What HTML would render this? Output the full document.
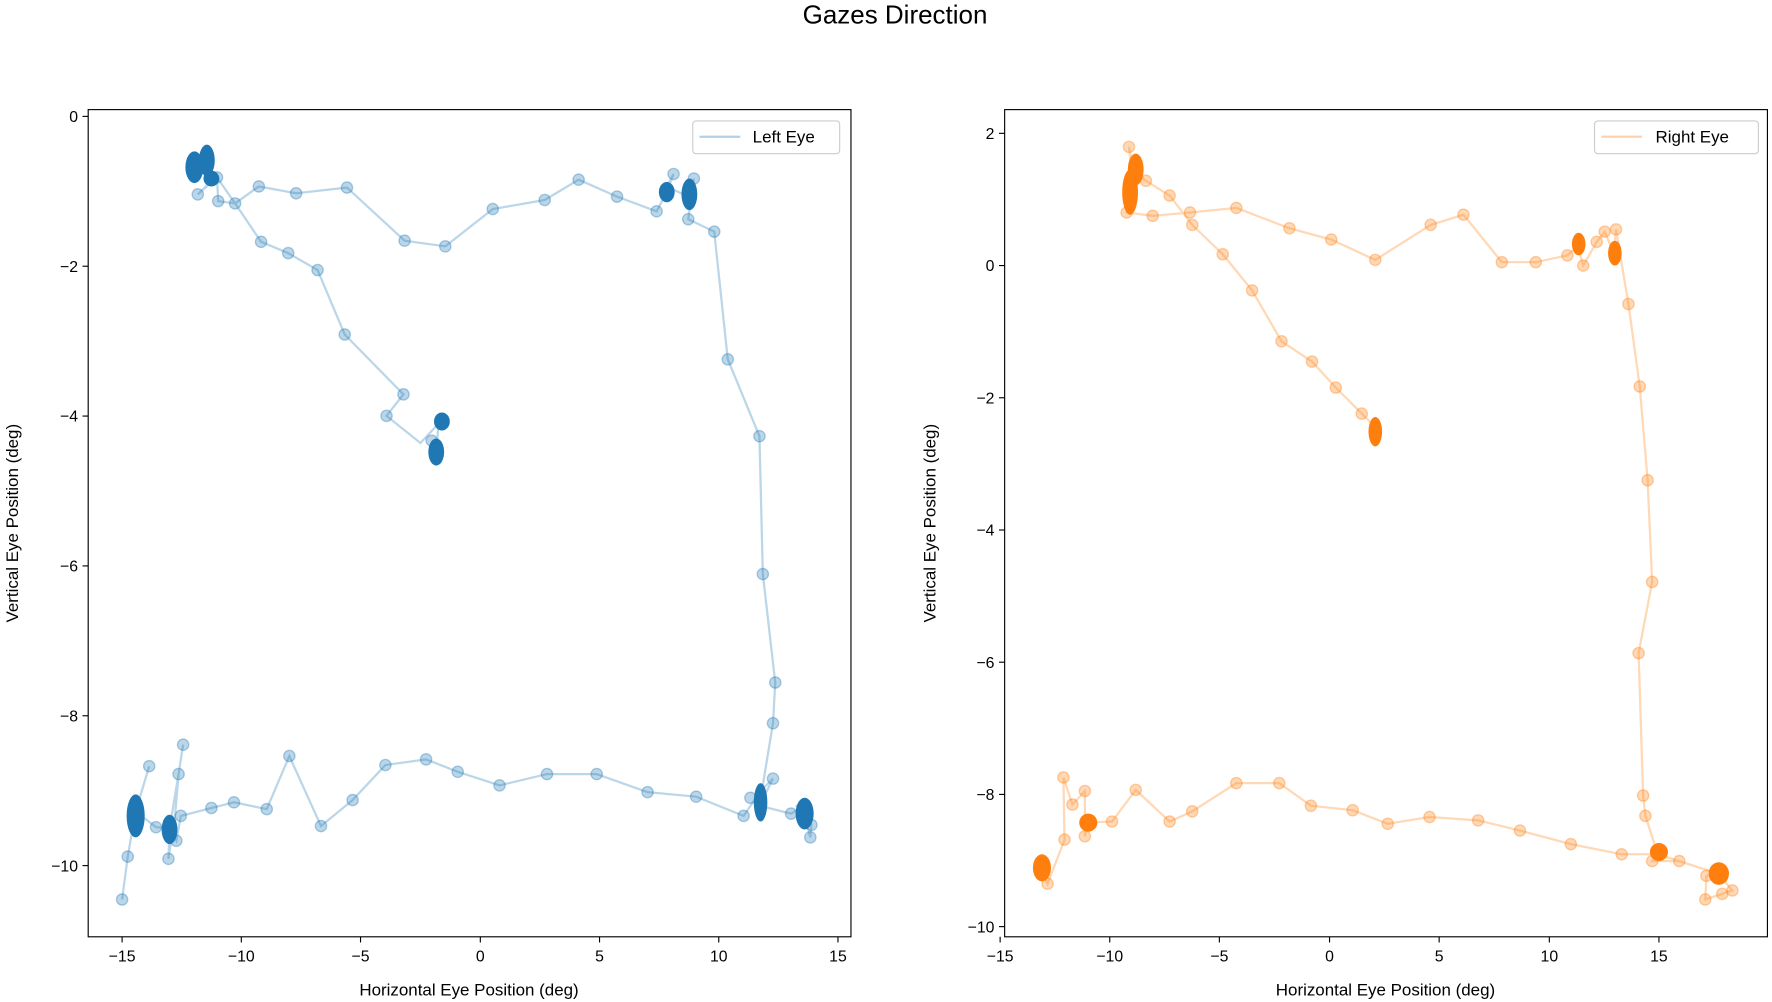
<!DOCTYPE html>
<html><head><meta charset="utf-8"><style>
html,body{margin:0;padding:0;background:#fff}
svg{display:block;font-family:"Liberation Sans","DejaVu Sans",sans-serif}
</style></head><body>
<svg width="1772" height="1002" viewBox="0 0 1568 886.7" xmlns="http://www.w3.org/2000/svg">
<defs>
<circle id="b" r="5" fill="#1f77b4" fill-opacity="0.3" stroke="#1f77b4" stroke-opacity="0.35" stroke-width="1.2"/>
<circle id="o" r="5" fill="#ff7f0e" fill-opacity="0.3" stroke="#ff7f0e" stroke-opacity="0.35" stroke-width="1.2"/>
</defs>
<text x="792" y="21" font-size="23" text-anchor="middle">Gazes Direction</text>

<!-- LEFT -->
<g>
<polyline fill="none" stroke="#1f77b4" stroke-opacity="0.3" stroke-width="2" points="386,400 388,375 372,392 342,368 357,349 305,296 281,239 255,224 231,214 208,180 193,178 192,157 175,150 170,140 182,142 187,160 175,172 192,157 208,180 229,165 262,171 307,166 358,213 394,218 436,185 482,177 512,159 546,174 581,187 590,170 596,154 590,165 611,175 614,158 609,194 632,205 644,318 672,386 675,508 686,604 684,640 672,713 684,689 673,700 658,722 616,705 573,701 528,685 484,685 442,695 405,683 377,672 341,677 312,708 284,731 256,669 236,716 207,710 187,715 160,722 156,744 150,733 149,760 155,720 158,685 162,659 158,685 150,733 138,732 120,718 132,678 120,718 113,758 108,796"/>
<polyline fill="none" stroke="#1f77b4" stroke-opacity="0.3" stroke-width="2" points="672,713 700,720 710,714 718,730 717,741 710,714 704,713"/>
<g fill="#1f77b4">
<ellipse cx="386" cy="400" rx="7" ry="12"/><ellipse cx="391" cy="373" rx="7" ry="8"/>
<ellipse cx="172" cy="148" rx="8" ry="14"/><ellipse cx="183" cy="142" rx="7" ry="14"/><ellipse cx="187" cy="158" rx="7" ry="7"/>
<ellipse cx="590" cy="170" rx="7" ry="9"/><ellipse cx="610" cy="172" rx="7" ry="14"/>
<ellipse cx="673" cy="710" rx="6" ry="17"/><ellipse cx="712" cy="720" rx="8" ry="14"/>
<ellipse cx="120" cy="722" rx="8" ry="19"/><ellipse cx="150" cy="734" rx="7" ry="13"/>
</g>
<g>
<use href="#b" x="342" y="368"/><use href="#b" x="357" y="349"/><use href="#b" x="305" y="296"/><use href="#b" x="281" y="239"/><use href="#b" x="255" y="224"/><use href="#b" x="231" y="214"/><use href="#b" x="208" y="180"/><use href="#b" x="193" y="178"/><use href="#b" x="192" y="157"/><use href="#b" x="175" y="172"/><use href="#b" x="229" y="165"/><use href="#b" x="262" y="171"/><use href="#b" x="307" y="166"/><use href="#b" x="358" y="213"/><use href="#b" x="394" y="218"/><use href="#b" x="436" y="185"/><use href="#b" x="482" y="177"/><use href="#b" x="512" y="159"/><use href="#b" x="546" y="174"/><use href="#b" x="581" y="187"/><use href="#b" x="596" y="154"/><use href="#b" x="614" y="158"/><use href="#b" x="609" y="194"/><use href="#b" x="632" y="205"/><use href="#b" x="644" y="318"/><use href="#b" x="672" y="386"/><use href="#b" x="675" y="508"/><use href="#b" x="686" y="604"/><use href="#b" x="684" y="640"/><use href="#b" x="684" y="689"/><use href="#b" x="658" y="722"/><use href="#b" x="616" y="705"/><use href="#b" x="573" y="701"/><use href="#b" x="528" y="685"/><use href="#b" x="484" y="685"/><use href="#b" x="442" y="695"/><use href="#b" x="405" y="683"/><use href="#b" x="377" y="672"/><use href="#b" x="341" y="677"/><use href="#b" x="312" y="708"/><use href="#b" x="284" y="731"/><use href="#b" x="256" y="669"/><use href="#b" x="236" y="716"/><use href="#b" x="207" y="710"/><use href="#b" x="187" y="715"/><use href="#b" x="160" y="722"/><use href="#b" x="156" y="744"/><use href="#b" x="149" y="760"/><use href="#b" x="158" y="685"/><use href="#b" x="162" y="659"/><use href="#b" x="138" y="732"/><use href="#b" x="132" y="678"/><use href="#b" x="113" y="758"/><use href="#b" x="108" y="796"/><use href="#b" x="700" y="720"/><use href="#b" x="718" y="730"/><use href="#b" x="717" y="741"/><use href="#b" x="382" y="390"/><use href="#b" x="664" y="706"/>
</g>
<rect x="78" y="97" width="675" height="732" fill="none" stroke="#000" stroke-width="1"/>
<g stroke="#000" stroke-width="1">
<line x1="108" y1="829" x2="108" y2="834"/><line x1="213.5" y1="829" x2="213.5" y2="834"/><line x1="319" y1="829" x2="319" y2="834"/><line x1="425" y1="829" x2="425" y2="834"/><line x1="530.5" y1="829" x2="530.5" y2="834"/><line x1="636" y1="829" x2="636" y2="834"/><line x1="741.5" y1="829" x2="741.5" y2="834"/>
<line x1="73" y1="103" x2="78" y2="103"/><line x1="73" y1="235.6" x2="78" y2="235.6"/><line x1="73" y1="368.2" x2="78" y2="368.2"/><line x1="73" y1="500.8" x2="78" y2="500.8"/><line x1="73" y1="633.4" x2="78" y2="633.4"/><line x1="73" y1="766" x2="78" y2="766"/>
</g>
<g font-size="14" text-anchor="middle">
<text x="108" y="851">−15</text><text x="213.5" y="851">−10</text><text x="319" y="851">−5</text><text x="425" y="851">0</text><text x="530.5" y="851">5</text><text x="636" y="851">10</text><text x="741.5" y="851">15</text>
</g>
<g font-size="14" text-anchor="end">
<text x="69" y="108">0</text><text x="69" y="240.6">−2</text><text x="69" y="373.2">−4</text><text x="69" y="505.8">−6</text><text x="69" y="638.4">−8</text><text x="69" y="771">−10</text>
</g>
<text x="415" y="881" font-size="15" text-anchor="middle">Horizontal Eye Position (deg)</text>
<text transform="translate(16,463) rotate(-90)" font-size="15" text-anchor="middle">Vertical Eye Position (deg)</text>
<rect x="613" y="107" width="130" height="29" rx="3" fill="#fff" fill-opacity="0.8" stroke="#ccc"/>
<line x1="619" y1="121" x2="655" y2="121" stroke="#1f77b4" stroke-opacity="0.35" stroke-width="2"/>
<text x="666" y="126" font-size="15">Left Eye</text>
</g>

<!-- RIGHT -->
<g>
<polyline fill="none" stroke="#ff7f0e" stroke-opacity="0.3" stroke-width="2" points="1217,378 1205,366 1182,343 1161,320 1134,302 1108,257 1082,225 1055,199 1035,173 1014,160 1003,150 999,130 1003,170 997,188 1020,191 1053,188 1094,184 1141,202 1178,212 1217,230 1266,199 1295,190 1329,232 1359,232 1387,226 1396,218 1401,235 1413,214 1420,205 1428,224 1430,203 1441,269 1451,342 1458,425 1462,515 1450,578 1454,704 1456,722 1467,756 1462,762 1486,762 1520,773 1510,775 1509,796 1524,791 1533,788 1520,773 1467,756 1435,756 1390,747 1345,735 1308,726 1265,723 1228,729 1197,717 1160,713 1132,693 1094,693 1055,718 1035,727 1005,699 984,727 963,728 960,740 960,700 949,712 941,688 942,743 927,782 920,767"/>
<g fill="#ff7f0e">
<ellipse cx="1217" cy="382" rx="6" ry="13"/>
<ellipse cx="1000" cy="170" rx="7" ry="20"/><ellipse cx="1005" cy="150" rx="7" ry="14"/>
<ellipse cx="1397" cy="216" rx="6" ry="10"/><ellipse cx="1429" cy="224" rx="6" ry="11"/>
<ellipse cx="1468" cy="754" rx="8" ry="8"/><ellipse cx="1521" cy="773" rx="9" ry="10"/>
<ellipse cx="963" cy="728" rx="8" ry="8"/><ellipse cx="922" cy="768" rx="8" ry="12"/>
</g>
<g>
<use href="#o" x="1205" y="366"/><use href="#o" x="1182" y="343"/><use href="#o" x="1161" y="320"/><use href="#o" x="1134" y="302"/><use href="#o" x="1108" y="257"/><use href="#o" x="1082" y="225"/><use href="#o" x="1055" y="199"/><use href="#o" x="1035" y="173"/><use href="#o" x="1014" y="160"/><use href="#o" x="999" y="130"/><use href="#o" x="997" y="188"/><use href="#o" x="1020" y="191"/><use href="#o" x="1053" y="188"/><use href="#o" x="1094" y="184"/><use href="#o" x="1141" y="202"/><use href="#o" x="1178" y="212"/><use href="#o" x="1217" y="230"/><use href="#o" x="1266" y="199"/><use href="#o" x="1295" y="190"/><use href="#o" x="1329" y="232"/><use href="#o" x="1359" y="232"/><use href="#o" x="1387" y="226"/><use href="#o" x="1401" y="235"/><use href="#o" x="1413" y="214"/><use href="#o" x="1420" y="205"/><use href="#o" x="1430" y="203"/><use href="#o" x="1441" y="269"/><use href="#o" x="1451" y="342"/><use href="#o" x="1458" y="425"/><use href="#o" x="1462" y="515"/><use href="#o" x="1450" y="578"/><use href="#o" x="1454" y="704"/><use href="#o" x="1456" y="722"/><use href="#o" x="1462" y="762"/><use href="#o" x="1486" y="762"/><use href="#o" x="1510" y="775"/><use href="#o" x="1509" y="796"/><use href="#o" x="1524" y="791"/><use href="#o" x="1533" y="788"/><use href="#o" x="1435" y="756"/><use href="#o" x="1390" y="747"/><use href="#o" x="1345" y="735"/><use href="#o" x="1308" y="726"/><use href="#o" x="1265" y="723"/><use href="#o" x="1228" y="729"/><use href="#o" x="1197" y="717"/><use href="#o" x="1160" y="713"/><use href="#o" x="1132" y="693"/><use href="#o" x="1094" y="693"/><use href="#o" x="1055" y="718"/><use href="#o" x="1035" y="727"/><use href="#o" x="1005" y="699"/><use href="#o" x="984" y="727"/><use href="#o" x="960" y="740"/><use href="#o" x="960" y="700"/><use href="#o" x="949" y="712"/><use href="#o" x="941" y="688"/><use href="#o" x="942" y="743"/><use href="#o" x="927" y="782"/>
</g>
<rect x="889" y="97" width="675" height="732" fill="none" stroke="#000" stroke-width="1"/>
<g stroke="#000" stroke-width="1">
<line x1="885" y1="829" x2="885" y2="834"/><line x1="982" y1="829" x2="982" y2="834"/><line x1="1079" y1="829" x2="1079" y2="834"/><line x1="1176.5" y1="829" x2="1176.5" y2="834"/><line x1="1273.5" y1="829" x2="1273.5" y2="834"/><line x1="1371" y1="829" x2="1371" y2="834"/><line x1="1468" y1="829" x2="1468" y2="834"/>
<line x1="884" y1="118" x2="889" y2="118"/><line x1="884" y1="235" x2="889" y2="235"/><line x1="884" y1="352" x2="889" y2="352"/><line x1="884" y1="469" x2="889" y2="469"/><line x1="884" y1="586" x2="889" y2="586"/><line x1="884" y1="703" x2="889" y2="703"/><line x1="884" y1="820" x2="889" y2="820"/>
</g>
<g font-size="14" text-anchor="middle">
<text x="885" y="851">−15</text><text x="982" y="851">−10</text><text x="1079" y="851">−5</text><text x="1176.5" y="851">0</text><text x="1273.5" y="851">5</text><text x="1371" y="851">10</text><text x="1468" y="851">15</text>
</g>
<g font-size="14" text-anchor="end">
<text x="880" y="123">2</text><text x="880" y="240">0</text><text x="880" y="357">−2</text><text x="880" y="474">−4</text><text x="880" y="591">−6</text><text x="880" y="708">−8</text><text x="880" y="825">−10</text>
</g>
<text x="1226" y="881" font-size="15" text-anchor="middle">Horizontal Eye Position (deg)</text>
<text transform="translate(828,463) rotate(-90)" font-size="15" text-anchor="middle">Vertical Eye Position (deg)</text>
<rect x="1411" y="107" width="145" height="29" rx="3" fill="#fff" fill-opacity="0.8" stroke="#ccc"/>
<line x1="1417" y1="121" x2="1453" y2="121" stroke="#ff7f0e" stroke-opacity="0.35" stroke-width="2"/>
<text x="1465" y="126" font-size="15">Right Eye</text>
</g>
</svg>
</body></html>
